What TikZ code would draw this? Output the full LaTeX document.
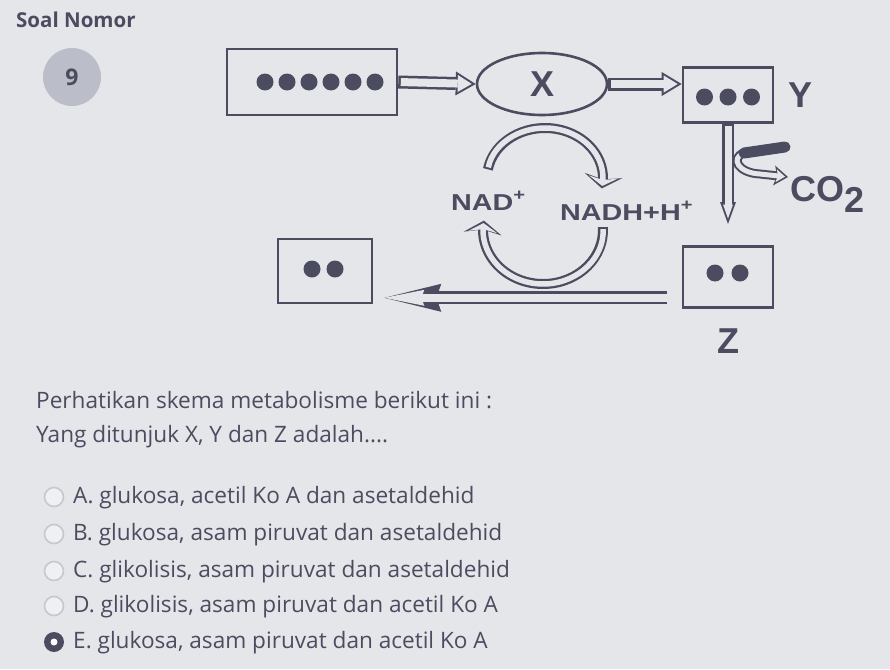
\documentclass[tikz,border=0pt]{standalone}
\usepackage{fontspec}
\setmainfont{Open Sans}
\newfontfamily\labelfont{Liberation Sans}
\newfontfamily\widefont[FakeStretch=1.25]{Liberation Sans}
\usetikzlibrary{positioning, arrows.meta, bending, calc, shapes.geometric}

\definecolor{ink}{HTML}{4B4C60}
\definecolor{bgc}{HTML}{E5E6EA}
\definecolor{ringc}{HTML}{C6C8CE}
\definecolor{badgec}{HTML}{BBBEC8}

\tikzset{
	box/.style={draw=ink, line width=2.6pt, rectangle, inner sep=0pt},
	dot/.style={fill=ink, circle, inner sep=0pt, minimum size=17pt},
	big/.style={font=\labelfont\bfseries\fontsize{36}{36}\selectfont, text=ink, inner sep=0pt},
	mid/.style={font=\widefont\bfseries\fontsize{23}{23}\selectfont, text=ink, inner sep=0pt, anchor=base west},
	body/.style={font=\fontsize{22.6}{26}\selectfont, text=ink, anchor=base west, inner sep=0pt},
	radio/.style={draw=ringc, fill=bgc!60!white, line width=1.6pt, circle, minimum size=19pt, inner sep=0pt},
	flow/.style={draw=ink, line width=13pt, -{Triangle[length=20pt,width=24pt,line width=0pt]},
		postaction={draw=bgc, line width=8pt, shorten <=2.5pt, shorten >=4pt,
			-{Triangle[length=14pt,width=17pt,line width=0pt]}}},
	flowv/.style={draw=ink, line width=12pt, -{Triangle[length=22pt,width=16pt,line width=0pt]},
		postaction={draw=bgc, line width=7pt, shorten <=2.5pt, shorten >=5.5pt,
			-{Triangle[length=14pt,width=10pt,line width=0pt]}}},
	flowarc/.style={draw=ink, line width=10pt, -{Stealth[length=13pt,width=38pt,inset=4pt,line width=0pt]},
		postaction={draw=bgc, line width=5.5pt, shorten <=2pt, shorten >=2.5pt,
			-{Stealth[length=9pt,width=29pt,inset=3pt,line width=0pt]}}},
	flowlong/.style={draw=ink, line width=13pt, -{Stealth[length=57pt,width=28pt,inset=5pt,line width=0pt]},
		postaction={draw=bgc, line width=8pt, shorten <=2.5pt, shorten >=11pt,
			-{Stealth[length=40pt,width=16pt,inset=3pt,line width=0pt]}}}
}

\begin{document}
\begin{tikzpicture}[x=1pt, y=-1pt]

	\fill[bgc] (0,0) rectangle (890,669);
	\useasboundingbox (0,0) rectangle (890,669);

	% header
	\node[anchor=base west, inner sep=0pt, text=ink, font=\bfseries\fontsize{20.5}{22}\selectfont] (soal) at (16,28) {Soal Nomor};
	\node[circle, fill=badgec, minimum size=58pt, inner sep=0pt, text=ink, font=\bfseries\fontsize{23}{24}\selectfont] (nomor) at (72,77) {9};

	% boxes
	\node[box, minimum width=170pt, minimum height=66pt] (glukosa) at (312,82) {};
	\foreach \i in {0,...,5}
		\node[dot] (g\i) at ($(glukosa.center)+(-47+\i*22,0)$) {};

	\node[draw=ink, line width=2.6pt, ellipse, minimum width=130pt, minimum height=62pt, big] (x) at (542,84) {X};

	\node[box, minimum width=90pt, minimum height=55pt] (ybox) at (728,95) {};
	\foreach \i in {0,1,2}
		\node[dot] (y\i) at ($(ybox.center)+(-23.5+\i*23.5,2)$) {};
	\node[big, right=14pt of ybox] (ylabel) {Y};

	\node[box, minimum width=94pt, minimum height=64pt] (lbox) at (325,271) {};
	\node[dot] (l0) at ($(lbox.center)+(-13,-2)$) {};
	\node[dot] (l1) at ($(lbox.center)+(10,-2)$) {};

	\node[box, minimum width=90pt, minimum height=61pt] (zbox) at (728,277) {};
	\node[dot] (z0) at ($(zbox.center)+(-13,-4)$) {};
	\node[dot] (z1) at ($(zbox.center)+(12,-4)$) {};
	\node[big, below=20pt of zbox] (zlabel) {Z};

	% labels
	\node[big, anchor=west] (co2) at (790,194) {CO\raisebox{-11pt}{2}};
	\node[mid] (nad) at (451,210) {NAD\textsuperscript{+}};
	\node[mid] (nadh) at (560,220) {NADH+H\textsuperscript{+}};

	% connectors
	\draw[flow] (glukosa.east) -- (x.west);
	\draw[flow] (x.east) -- (x.east -| ybox.west);

	\coordinate (ytip) at (728,224);
	\draw[flowv] (ybox.south) -- (ytip);

	\coordinate (co2a) at (785,147);
	\coordinate (co2b) at (744,153);
	\coordinate (co2tip) at (788,177);
	\draw[draw=ink, line width=9pt, -{Stealth[length=14pt,width=20pt,inset=3pt,line width=0pt]},
		postaction={draw=bgc, line width=5pt, shorten >=3pt, -{Stealth[length=9pt,width=13pt,inset=2pt,line width=0pt]}}]
		(co2a) -- (co2b) .. controls (730,158) and (738,173) .. (760,174) -- (co2tip);
	\draw[ink, line width=11pt, line cap=round] (co2a) -- (co2b);

	\coordinate (cyc) at (545,178);
	\coordinate (cyc2) at (543,230);
	\draw[flowarc] ($(cyc)+(-170:58 and 50)$) arc[start angle=-170, end angle=12, x radius=58, y radius=50];
	\draw[flowarc] ($(cyc2)+(-3:60 and 54)$) arc[start angle=-3, end angle=190, x radius=60, y radius=54];

	\coordinate (zout) at ([yshift=11pt]zbox.south west);
	\draw[flowlong, shorten <=15pt, shorten >=11pt] (zout) -- (zout -| lbox.east);

	% question
	\node[body] (q1) at (36,408) {Perhatikan skema metabolisme berikut ini :};
	\node[body] (q2) at (36,442) {Yang ditunjuk X, Y dan Z adalah....};

	\node[radio] (ra) at (54,497) {};
	\node[radio] (rb) at (54,534) {};
	\node[radio] (rc) at (54,571) {};
	\node[radio] (rd) at (54,606) {};
	\node[circle, fill=ink, minimum size=20pt, inner sep=0pt] (re) at (54,642) {};
	\node[circle, fill=white, minimum size=7pt, inner sep=0pt] (re0) at (re) {};

	\node[body] (oa) at (73,503) {A. glukosa, acetil Ko A dan asetaldehid};
	\node[body] (ob) at (73,540) {B. glukosa, asam piruvat dan asetaldehid};
	\node[body] (oc) at (73,577) {C. glikolisis, asam piruvat dan asetaldehid};
	\node[body] (od) at (73,612) {D. glikolisis, asam piruvat dan acetil Ko A};
	\node[body] (oe) at (73,648) {E. glukosa, asam piruvat dan acetil Ko A};

\end{tikzpicture}
\end{document}
